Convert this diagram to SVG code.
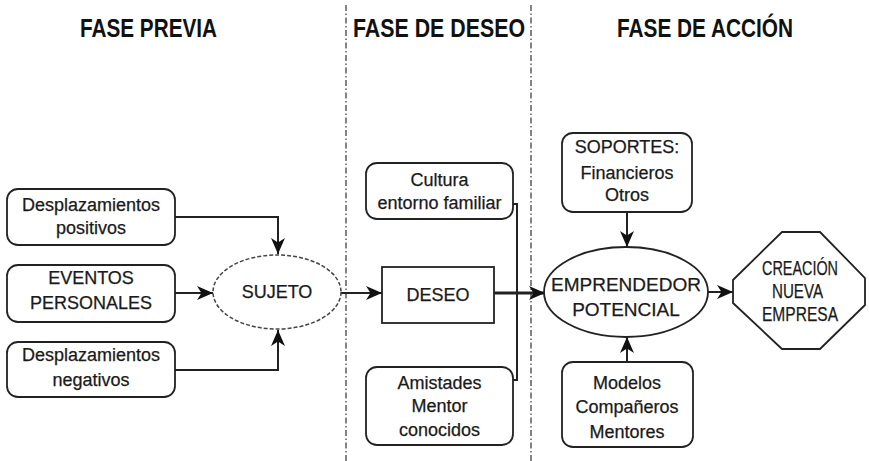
<svg xmlns="http://www.w3.org/2000/svg" width="869" height="461" viewBox="0 0 869 461">
<style>
.box{fill:#fff;stroke:#222;stroke-width:1.8}
.t{font-family:"Liberation Sans",Arial,sans-serif;font-size:18px;fill:#1a1a1a;stroke:#1a1a1a;stroke-width:0.25;text-anchor:middle}
.h{font-family:"Liberation Sans",Arial,sans-serif;font-size:25px;font-weight:bold;fill:#111}
.c{fill:none;stroke:#222;stroke-width:2}
.div{stroke:#333;stroke-width:1.2;stroke-dasharray:6,2.5,1.5,2.5}
</style>
<defs>
<marker id="ar" markerUnits="userSpaceOnUse" markerWidth="17" markerHeight="14" refX="16" refY="7" orient="auto">
<path d="M0,0 L16,7 L0,14 L4.5,7 z" fill="#111"/>
</marker>
</defs>
<rect width="869" height="461" fill="#fff"/>
<g id="dividers">
<line class="div" x1="346" y1="5" x2="346" y2="461"/>
<line class="div" x1="531" y1="5" x2="531" y2="461"/>
</g>
<g id="headers">
<text class="h" x="80" y="37" textLength="137" lengthAdjust="spacingAndGlyphs">FASE PREVIA</text>
<text class="h" x="353" y="37" textLength="172" lengthAdjust="spacingAndGlyphs">FASE DE DESEO</text>
<text class="h" x="617" y="37" textLength="176" lengthAdjust="spacingAndGlyphs">FASE DE ACCIÓN</text>
</g>
<g id="connectors">
<path class="c" d="M175,217 H278 V254" marker-end="url(#ar)"/>
<path class="c" d="M175,293 H213" marker-end="url(#ar)"/>
<path class="c" d="M175,370 H278 V330" marker-end="url(#ar)"/>
<path class="c" d="M341,293 H382" marker-end="url(#ar)"/>
<path class="c" d="M513,204 H517 V380 H513"/>
<path class="c" d="M494,293 H545" style="stroke-width:3" marker-end="url(#ar)"/>
<path class="c" d="M627,212 V247" marker-end="url(#ar)"/>
<path class="c" d="M627,362 V337" marker-end="url(#ar)"/>
<path class="c" d="M708,292 H733" marker-end="url(#ar)"/>
</g>
<g id="positivos">
<rect class="box" x="7" y="189" width="168" height="56" rx="11"/>
<text class="t" x="91" y="211">Desplazamientos</text>
<text class="t" x="91" y="234">positivos</text>
</g>
<g id="eventos">
<rect class="box" x="7" y="265" width="168" height="57" rx="11"/>
<text class="t" x="91" y="284">EVENTOS</text>
<text class="t" x="91" y="309">PERSONALES</text>
</g>
<g id="negativos">
<rect class="box" x="7" y="342" width="168" height="55" rx="11"/>
<text class="t" x="91" y="361">Desplazamientos</text>
<text class="t" x="91" y="386">negativos</text>
</g>
<g id="sujeto">
<ellipse cx="277" cy="292" rx="64" ry="37" fill="#fff" stroke="#444" stroke-width="1.5" stroke-dasharray="4,2"/>
<text class="t" x="277" y="298">SUJETO</text>
</g>
<g id="cultura">
<rect class="box" x="366" y="163" width="147" height="56" rx="11"/>
<text class="t" x="439.5" y="186">Cultura</text>
<text class="t" x="439.5" y="209">entorno familiar</text>
</g>
<g id="deseo">
<rect class="box" x="382" y="267" width="112" height="56"/>
<text class="t" x="438" y="301">DESEO</text>
</g>
<g id="amistades">
<rect class="box" x="366" y="367" width="147" height="78" rx="11"/>
<text class="t" x="439.5" y="389">Amistades</text>
<text class="t" x="439.5" y="412">Mentor</text>
<text class="t" x="439.5" y="436">conocidos</text>
</g>
<g id="soportes">
<rect class="box" x="562" y="133" width="130" height="79" rx="11"/>
<text class="t" x="627" y="153">SOPORTES:</text>
<text class="t" x="627" y="179">Financieros</text>
<text class="t" x="627" y="201">Otros</text>
</g>
<g id="emprendedor">
<ellipse cx="626" cy="292" rx="82" ry="45" fill="#fff" stroke="#222" stroke-width="1.8"/>
<text class="t" x="626" y="291" style="font-size:19px">EMPRENDEDOR</text>
<text class="t" x="626" y="316" style="font-size:19px">POTENCIAL</text>
</g>
<g id="modelos">
<rect class="box" x="562" y="362" width="131" height="85" rx="11"/>
<text class="t" x="627" y="389">Modelos</text>
<text class="t" x="627" y="413">Compañeros</text>
<text class="t" x="627" y="438">Mentores</text>
</g>
<g id="creacion">
<polygon class="box" points="782,232 820,232 865,278 865,305 820,349 782,349 733,303 733,280"/>
<text class="t" x="762" y="275" style="text-anchor:start;font-size:20px" textLength="76" lengthAdjust="spacingAndGlyphs">CREACIÓN</text>
<text class="t" x="772" y="298" style="text-anchor:start;font-size:20px" textLength="51" lengthAdjust="spacingAndGlyphs">NUEVA</text>
<text class="t" x="762" y="321" style="text-anchor:start;font-size:20px" textLength="76" lengthAdjust="spacingAndGlyphs">EMPRESA</text>
</g>
</svg>
